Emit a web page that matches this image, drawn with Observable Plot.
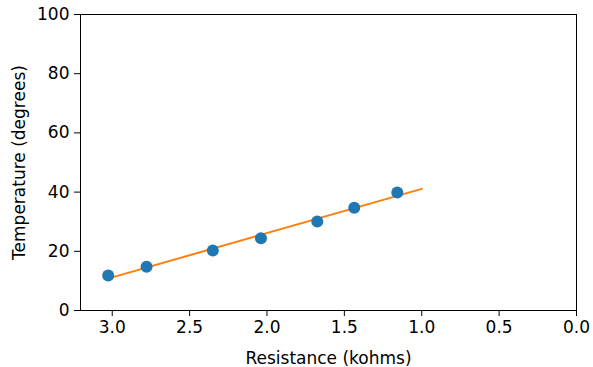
<!DOCTYPE html>
<html><head><meta charset="utf-8">
<script src="https://cdn.jsdelivr.net/npm/d3@7"></script>
<script src="https://cdn.jsdelivr.net/npm/@observablehq/plot@0.6"></script>
<style>body{margin:0;background:#fff;}</style>
</head><body><div id="chart"></div>
<script>
const resistance = [3.026, 2.778, 2.350, 2.039, 1.675, 1.436, 1.158];
const temperature = [11.8, 14.8, 20.3, 24.4, 30.1, 34.7, 39.9];
const fitX = [3.0, 1.0];
const fitY = [11.2, 41.1];
const xTicks = [3.0, 2.5, 2.0, 1.5, 1.0, 0.5, 0.0];
const yTicks = [0, 20, 40, 60, 80, 100];

const pts = resistance.map((r, i) => ({r, t: temperature[i]}));
const fit = fitX.map((r, i) => ({r, t: fitY[i]}));

const chart = Plot.plot({
  width: 593, height: 367,
  marginLeft: 80, marginRight: 17, marginTop: 14, marginBottom: 57,
  style: {fontFamily: "DejaVu Sans", fontSize: "17px", color: "#000", background: "#fff"},
  x: {domain: [3.205, 0], ticks: xTicks, tickFormat: d3.format(".1f"), tickSize: 6, tickPadding: 4, label: "Resistance (kohms)", labelAnchor: "center", labelArrow: "none", labelOffset: 53},
  y: {domain: [0, 100], ticks: yTicks, tickSize: 6, tickPadding: 5, label: "Temperature (degrees)", labelAnchor: "center", labelArrow: "none", labelOffset: 68},
  marks: [
    Plot.frame({stroke: "#000", strokeWidth: 1}),
    Plot.line(fit, {x: "r", y: "t", stroke: "#ff7f0e", strokeWidth: 2}),
    Plot.dot(pts, {x: "r", y: "t", r: 6, fill: "#1f77b4", stroke: "none"})
  ]
});
document.getElementById("chart").appendChild(chart);
</script>
</body></html>
